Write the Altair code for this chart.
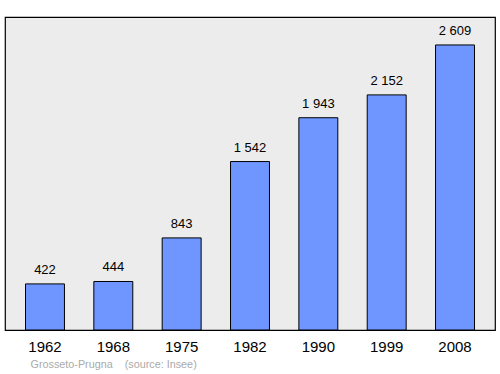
import altair as alt
import pandas as pd

years = ["1962", "1968", "1975", "1982", "1990", "1999", "2008"]
population = [422, 444, 843, 1542, 1943, 2152, 2609]
source_note = "Grosseto-Prugna\u00a0\u00a0\u00a0\u00a0(source: Insee)"

df = pd.DataFrame({
    "year": years,
    "pop": population,
    "label": [f"{v:,}".replace(",", "\u00a0") for v in population],
})

FONT = "Liberation Sans"

x = alt.X("year:N", sort=years,
          scale=alt.Scale(paddingInner=0.43, paddingOuter=0.30),
          axis=alt.Axis(title=None, labelAngle=0, ticks=False, domain=False,
                        labelFontSize=15, labelFont=FONT, labelColor="#000",
                        labelPadding=9))
y = alt.Y("pop:Q", scale=alt.Scale(domain=[0, 2865], nice=False),
          axis=None)

base = alt.Chart(df)

bars = base.mark_bar(color="#6f96ff", stroke="#000", strokeWidth=1).encode(x=x, y=y)

labels = base.mark_text(baseline="alphabetic", dy=-10, fontSize=13, font=FONT,
                        color="#000").encode(x=x, y=y, text="label:N")

note = alt.Chart(pd.DataFrame({"t": [source_note]})).mark_text(
    align="left", baseline="middle", fontSize=10.8, font=FONT, color="#aaaaaa"
).encode(text="t:N", x=alt.value(25.5), y=alt.value(348))

chart = alt.layer(bars, labels, note).properties(
    width=490, height=313,
    autosize=alt.AutoSizeParams(type="none"),
    padding={"left": 5, "top": 17, "right": 5, "bottom": 44},
    background="#ffffff",
).configure_view(
    fill="#ececec", stroke="#000000", strokeWidth=1.2
)

chart.save("out.html", embed_options={"renderer": "svg", "actions": False})
